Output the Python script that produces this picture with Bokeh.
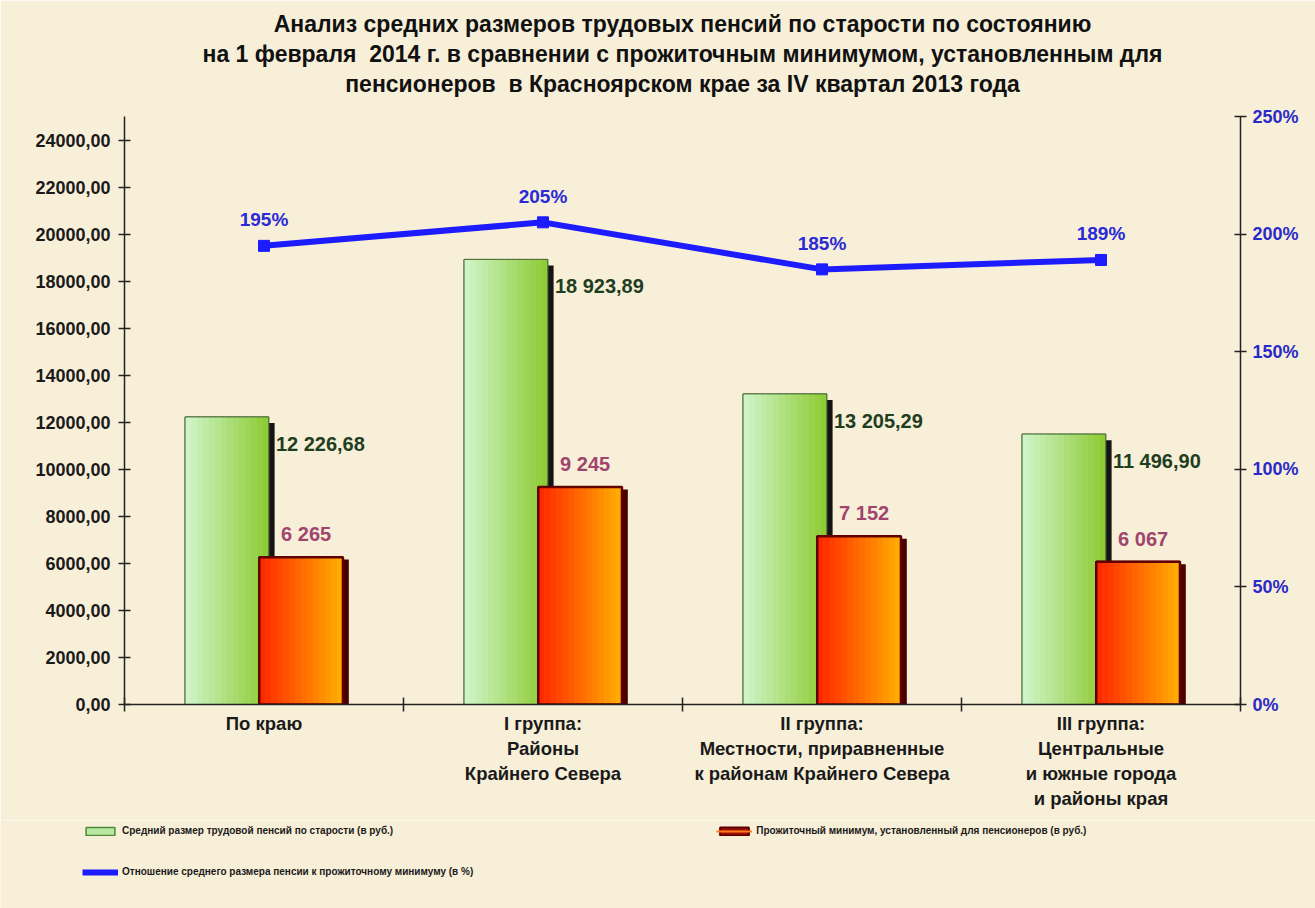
import numpy as np
from bokeh.plotting import figure
from bokeh.layouts import column
from bokeh.models import (ColumnDataSource, Range1d, LinearAxis, FixedTicker, Title,
                          Legend, LegendItem, CustomJSTickFormatter)
from bokeh.embed import file_html
from bokeh.resources import INLINE
from bokeh.core.properties import value

# ---------------- data ----------------
categories = [
    "По краю",
    "I группа:\nРайоны\nКрайнего Севера",
    "II группа:\nМестности, приравненные\nк районам Крайнего Севера",
    "III группа:\nЦентральные\nи южные города\nи районы края",
]
pension = [12226.68, 18923.89, 13205.29, 11496.90]
minimum = [6265, 9245, 7152, 6067]
ratio = [1.95, 2.05, 1.85, 1.89]
left_ticks = [0, 2000, 4000, 6000, 8000, 10000, 12000, 14000, 16000, 18000, 20000, 22000, 24000]
right_ticks = [0, 0.5, 1.0, 1.5, 2.0, 2.5]

title_lines = [
    "Анализ средних размеров трудовых пенсий по старости по состоянию",
    "на 1 февраля\u00a0 2014 г. в сравнении с прожиточным минимумом, установленным для",
    "пенсионеров\u00a0 в Красноярском крае за IV квартал 2013 года",
]
legend_labels = [
    "Средний размер трудовой пенсий по старости (в руб.)",
    "Прожиточный минимум, установленный для пенсионеров (в руб.)",
    "Отношение среднего размера пенсии к прожиточному минимуму (в %)",
]

# ---------------- helpers ----------------
def fmt(v, dec):
    s = f"{v:,.{dec}f}"
    return s.replace(",", " ").replace(".", ",")

BG = "#f8efd8"
FONT = "Liberation Sans"
BLUE = "#1c1cff"

idx = np.arange(len(categories)) + 0.5
W = 0.30
OFF = 0.133
xg = idx - OFF
xr = idx + OFF

src = ColumnDataSource(dict(
    xg=xg, xr=xr, x=idx,
    pension=pension, minimum=minimum, ratio=ratio,
    ptxt=[fmt(v, 2) for v in pension],
    mtxt=[fmt(v, 0) for v in minimum],
    rtxt=[f"{round(r * 100):d}%" for r in ratio],
))

p = figure(width=1315, height=820, x_range=Range1d(0, len(categories)),
           y_range=Range1d(0, 25000), output_backend="svg", toolbar_location=None,
           min_border_left=124, min_border_right=75, min_border_top=116,
           min_border_bottom=116, background_fill_color=BG, border_fill_color=BG,
           outline_line_color=None, title=None)
p.xgrid.visible = False
p.ygrid.visible = False
p.extra_y_ranges = {"pct": Range1d(0, 2.5)}

# ---------------- axes ----------------
xa = p.xaxis[0]
xa.ticker = FixedTicker(ticks=list(idx), minor_ticks=list(range(len(categories) + 1)))
xa.formatter = CustomJSTickFormatter(args=dict(labels=categories),
                                     code="return labels[Math.floor(tick)];")
xa.major_tick_line_color = None
xa.minor_tick_in = 7
xa.minor_tick_out = 7
xa.minor_tick_line_color = "#222222"
xa.minor_tick_line_width = 1.5
xa.axis_line_width = 1.5
xa.axis_line_color = "#222222"
xa.major_label_text_font = FONT
xa.major_label_text_font_style = "bold"
xa.major_label_text_font_size = "18.5px"
xa.major_label_text_color = "#1a1a1a"
xa.major_label_standoff = 1

ya = p.yaxis[0]
ya.ticker = FixedTicker(ticks=left_ticks)
ya.formatter = CustomJSTickFormatter(code="return tick.toFixed(0) + ',00';")
ya.major_tick_in = 6
ya.major_tick_out = 6
ya.minor_tick_line_color = None
ya.axis_line_width = 1.5
ya.axis_line_color = "#222222"
ya.major_tick_line_width = 1.5
ya.major_tick_line_color = "#222222"
ya.major_label_text_font = FONT
ya.major_label_text_font_style = "bold"
ya.major_label_text_font_size = "18px"
ya.major_label_text_color = "#1a1a1a"
ya.major_label_standoff = 8

ra = LinearAxis(y_range_name="pct", ticker=FixedTicker(ticks=right_ticks),
                formatter=CustomJSTickFormatter(code="return Math.round(tick * 100) + '%';"))
ra.major_tick_in = 6
ra.major_tick_out = 6
ra.minor_tick_line_color = None
ra.axis_line_width = 1.5
ra.axis_line_color = "#222222"
ra.major_tick_line_width = 1.5
ra.major_tick_line_color = "#222222"
ra.major_label_text_font = FONT
ra.major_label_text_font_style = "bold"
ra.major_label_text_font_size = "18px"
ra.major_label_text_color = "#2a2ac8"
ra.major_label_standoff = 6
p.add_layout(ra, "right")

# ---------------- bars ----------------
def lerp(c1, c2, t):
    return "#%02x%02x%02x" % tuple(int(round(a + (b - a) * t)) for a, b in zip(c1, c2))

N = 14
DX = 0.021  # shadow shift
DY = 260

# green shadow + gradient body + outline
p.vbar(x=xg + DX, width=W, top=np.array(pension) - DY, bottom=0, fill_color="#141414",
       line_color=None)
p.vbar(x="xg", width=W, top="pension", bottom=0, source=src,
       fill_color="#a8dc6c", line_color="#4d6b3a", line_width=1)
for i in range(N):
    t = (i + 0.5) / N
    p.vbar(x=xg - W / 2 + t * W, width=W / N * 1.02, top=pension, bottom=0,
           fill_color=lerp((208, 246, 204), (140, 202, 48), t), line_color=None)
p.vbar(x="xg", width=W, top="pension", bottom=0, source=src,
       fill_alpha=0, line_color="#4d6b3a", line_width=1)

# red shadow + gradient body + outline
p.vbar(x=xr + DX, width=W, top=np.array(minimum) - DY * 0.4, bottom=0, fill_color="#4a0000",
       line_color=None)
p.vbar(x="xr", width=W, top="minimum", bottom=0, source=src,
       fill_color="#ff5a00", line_color="#600000", line_width=2)
for i in range(N):
    t = (i + 0.5) / N
    p.vbar(x=xr - W / 2 + t * W, width=W / N * 1.02, top=minimum, bottom=0,
           fill_color=lerp((255, 36, 0), (255, 176, 0), t), line_color=None)
p.vbar(x="xr", width=W, top="minimum", bottom=0, source=src,
       fill_alpha=0, line_color="#600000", line_width=2.5)

# ---------------- value labels ----------------
p.text(x="xg", y="pension", text="ptxt", source=src, x_offset=49, y_offset=27,
       text_align="left", text_baseline="middle", text_font=value(FONT),
       text_font_style="bold", text_font_size="20px", text_color="#1f3d1f")
p.text(x="xr", y="minimum", text="mtxt", source=src, x_offset=5, y_offset=-23,
       text_align="center", text_baseline="middle", text_font=value(FONT),
       text_font_style="bold", text_font_size="20px", text_color="#a0446e")

# ---------------- ratio line ----------------
p.line(x="x", y="ratio", source=src, y_range_name="pct", line_color=BLUE, line_width=6)
p.scatter(x="x", y="ratio", source=src, y_range_name="pct", marker="square",
          size=11, fill_color=BLUE, line_color=BLUE)
p.text(x="x", y="ratio", text="rtxt", source=src, y_range_name="pct", y_offset=-26,
       text_align="center", text_baseline="middle", text_font=value(FONT),
       text_font_style="bold", text_font_size="19px", text_color="#2a2ad6")

# ---------------- titles ----------------
p.add_layout(Title(text=" ", text_font_size="4px", standoff=12), "above")  # spacer
for line in reversed(title_lines):
    t = Title(text=line, align="center", text_font=FONT, text_font_style="bold",
              text_font_size="23px", text_color="#111111", standoff=2)
    p.add_layout(t, "above")

# ---------------- legend strip (separate figure below) ----------------
lg = figure(width=1315, height=88, x_range=Range1d(0, 1), y_range=Range1d(0, 1),
            output_backend="svg", toolbar_location=None, min_border=0,
            min_border_left=0, min_border_right=0, min_border_top=0, min_border_bottom=0,
            background_fill_color=BG, border_fill_color=BG, outline_line_color=None,
            x_axis_type=None, y_axis_type=None, title=None)
lg.frame_align = False
lg.xgrid.visible = False
lg.ygrid.visible = False
nan = [np.nan]
g_leg = lg.vbar(x=nan, top=nan, width=0.1, fill_color="#b8e8a0", line_color="#4d8a3a",
                line_width=1.5)
r_leg = lg.vbar(x=nan, top=nan, width=0.1, fill_color="#a01000", line_color="#5a0000",
                line_width=2)
r_leg2 = lg.line(x=nan, y=nan, line_color="#ff7a20", line_width=2)
b_leg = lg.line(x=nan, y=nan, line_color=BLUE, line_width=6)
b_leg2 = lg.scatter(x=nan, y=nan, marker="square", size=10, fill_color=BLUE, line_color=BLUE)

leg_common = dict(background_fill_alpha=0, border_line_color=None,
                  label_text_font=FONT, label_text_font_style="bold",
                  label_text_font_size="10px", label_text_color="#1a1a1a",
                  glyph_width=36, glyph_height=10, label_standoff=4,
                  orientation="horizontal", margin=0, padding=0)
leg1 = Legend(items=[LegendItem(label=legend_labels[0], renderers=[g_leg]),
                     LegendItem(label=legend_labels[1], renderers=[r_leg, r_leg2])],
              spacing=323, location=(82, 72), **leg_common)
leg2 = Legend(items=[LegendItem(label=legend_labels[2], renderers=[b_leg, b_leg2])],
              spacing=10, location=(82, 31), **leg_common)
lg.add_layout(leg1)
lg.add_layout(leg2)

layout = column(p, lg, spacing=0)
open("out.html", "w").write(file_html(layout, INLINE))
